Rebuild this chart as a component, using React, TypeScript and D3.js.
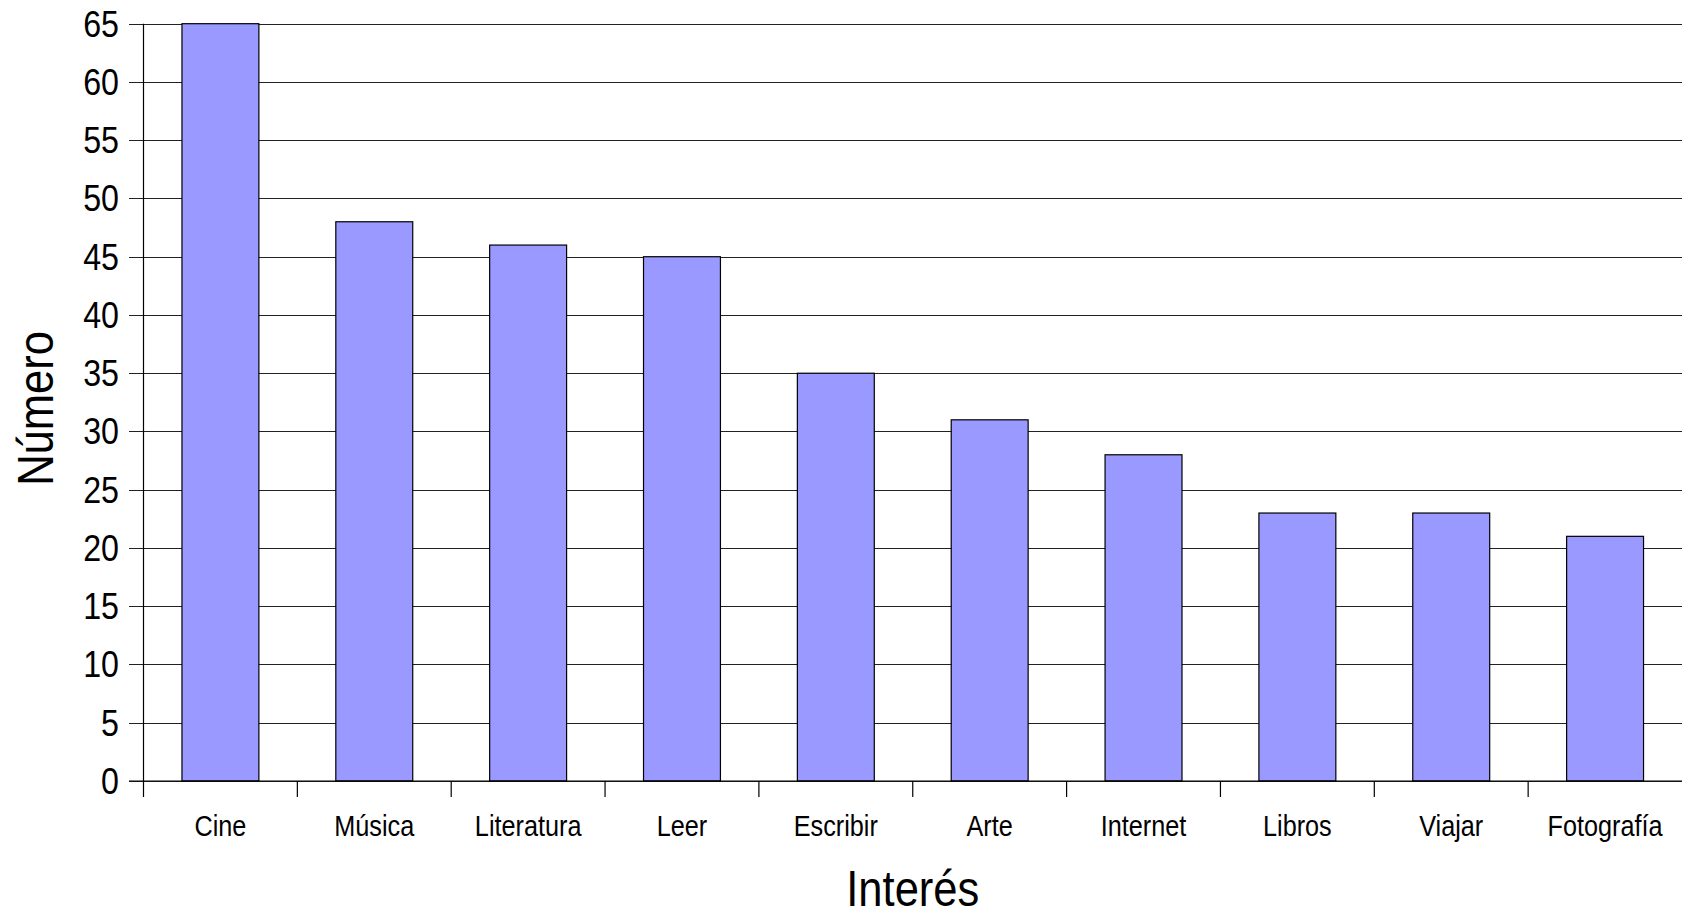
import React from "react";
import * as d3 from "d3";

const categories = ["Cine", "Música", "Literatura", "Leer", "Escribir", "Arte", "Internet", "Libros", "Viajar", "Fotografía"];
const values = [65, 48, 46, 45, 35, 31, 28, 23, 23, 21];
const yTicks = [0, 5, 10, 15, 20, 25, 30, 35, 40, 45, 50, 55, 60, 65];

const W = 1682;
const H = 911;
const FONT = "'Liberation Sans', Arial, sans-serif";
const SX = 0.87;

export default function App() {
  const left = 143.5;
  const right = 1682;
  const top = 23.7;
  const bottom = 781;
  const x = d3.scaleBand<string>().domain(categories).range([left, right]).paddingInner(0).paddingOuter(0);
  const y = d3.scaleLinear().domain([0, 65]).range([bottom, top]);
  const bw = x.bandwidth() * 0.5;

  return (
    <svg width={W} height={H} style={{ position: "fixed", left: 0, top: 0, background: "#fff" }}>
      {yTicks.map((t) => (
        <g key={t}>
          <line x1={129} x2={right} y1={Math.round(y(t)) + 0.5} y2={Math.round(y(t)) + 0.5} stroke="#222" strokeWidth={1.2} />
          <text
            transform={`translate(119, ${y(t)}) scale(${SX},1)`}
            textAnchor="end"
            dominantBaseline="central"
            fontFamily={FONT}
            fontSize={37}
            fill="#000"
          >
            {t}
          </text>
        </g>
      ))}
      {categories.map((c, i) => (
        <rect
          key={c}
          x={(x(c) as number) + (x.bandwidth() - bw) / 2}
          y={y(values[i])}
          width={bw}
          height={bottom - y(values[i])}
          fill="#9999ff"
          stroke="#000"
          strokeWidth={1.2}
        />
      ))}
      <line x1={left} x2={left} y1={top} y2={797} stroke="#000" strokeWidth={1.2} />
      <line x1={129} x2={right} y1={bottom} y2={bottom} stroke="#000" strokeWidth={1.2} />
      {categories.map((c, i) =>
        i === 0 ? null : (
          <line key={"t" + c} x1={x(c) as number} x2={x(c) as number} y1={bottom} y2={797} stroke="#000" strokeWidth={1.2} />
        )
      )}
      {categories.map((c) => (
        <text
          key={"l" + c}
          transform={`translate(${(x(c) as number) + x.bandwidth() / 2}, 836) scale(${SX},1)`}
          textAnchor="middle"
          fontFamily={FONT}
          fontSize={29}
          fill="#000"
        >
          {c}
        </text>
      ))}
      <text
        transform={`translate(${(left + right) / 2}, 906) scale(${SX},1)`}
        textAnchor="middle"
        fontFamily={FONT}
        fontSize={50}
        fill="#000"
      >
        Interés
      </text>
      <text
        transform={`translate(53, 408.5) rotate(-90) scale(${SX},1)`}
        textAnchor="middle"
        fontFamily={FONT}
        fontSize={50}
        fill="#000"
      >
        Número
      </text>
    </svg>
  );
}
